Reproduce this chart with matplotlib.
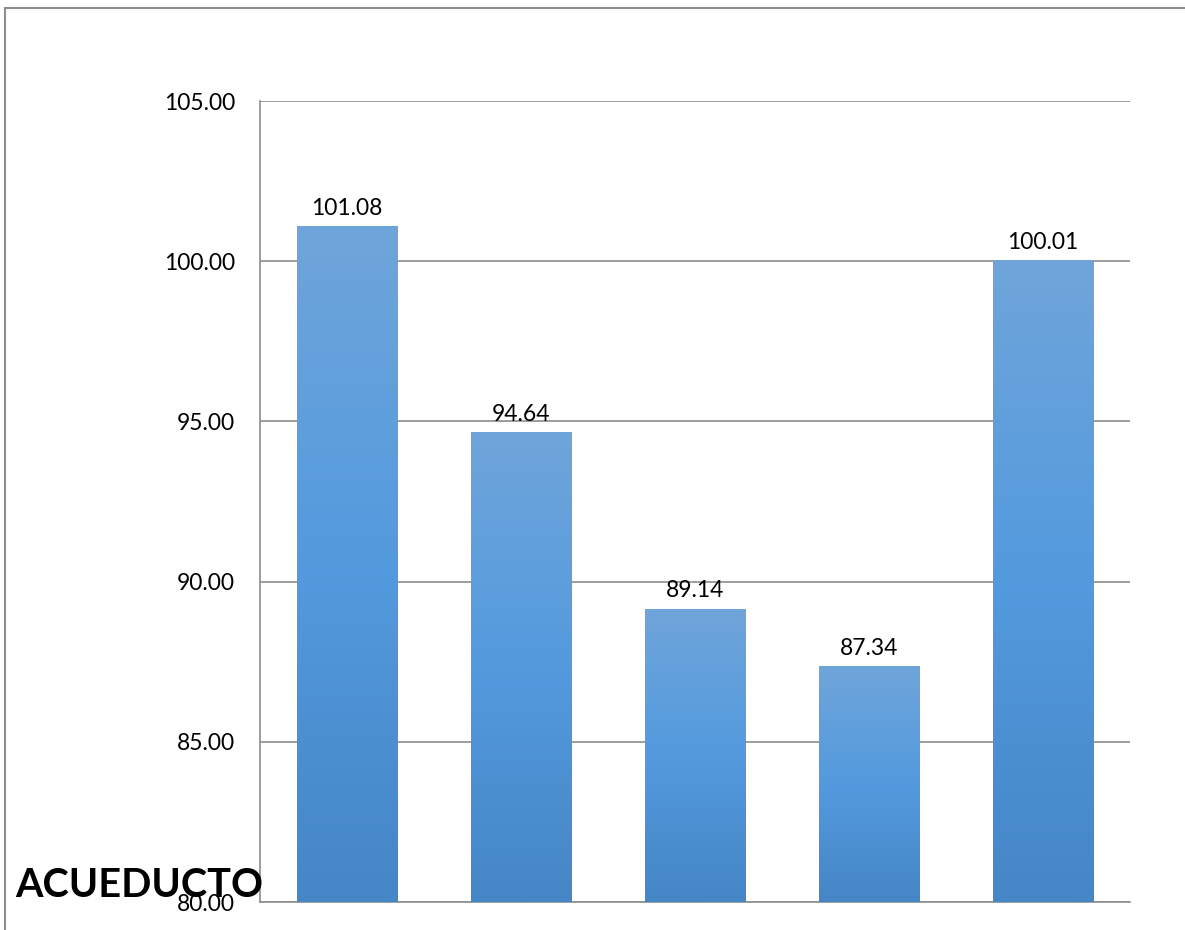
import matplotlib.pyplot as plt
import numpy as np
from matplotlib.colors import LinearSegmentedColormap
from matplotlib.patches import Rectangle

# data
periodos = ['MARZ-ABRIL-18', 'MAYO-JUNIO-18', 'JUL-AGOSTO-18', 'SEP-OCT-18', 'NOV-DIC) 2018']
valores = [101.08, 94.64, 89.14, 87.34, 100.01]
y_ticks = [80, 85, 90, 95, 100, 105]

plt.rcParams['font.family'] = ['Lato', 'DejaVu Sans']

fig = plt.figure(figsize=(11.85, 9.3), dpi=100)
ax = fig.add_axes([260/1185, 1 - 902/930, 870/1185, 801/930])

# outer chart frame (runs off the right and bottom edges)
fig.patches.append(Rectangle((5/1185, -0.1), 1.2, 0.1 + (1 - 8/930), transform=fig.transFigure,
                             fill=False, edgecolor='#8c8c8c', linewidth=1.5))

x = np.arange(len(valores))
bars = ax.bar(x, valores, width=0.575, color='none', zorder=3)

grad = LinearSegmentedColormap.from_list('g', ['#4586c6', '#539ade', '#6fa5da'])
g = np.linspace(0, 1, 256).reshape(-1, 1)
for b, v in zip(bars, valores):
    x0 = b.get_x()
    w = b.get_width()
    ax.imshow(g, cmap=grad, aspect='auto', origin='lower',
              extent=(x0, x0 + w, 80, v), zorder=3)
    ax.text(x0 + w / 2, v + 0.25, f'{v:.2f}', ha='center', va='bottom',
            fontsize=16.5, color='#000000', zorder=4)

ax.set_xlim(-0.5, len(valores) - 0.5)
ax.set_ylim(80, 105)
ax.set_yticks(y_ticks)
ax.set_yticklabels([f'{t:.2f}' for t in y_ticks], fontsize=16.5)
ax.yaxis.grid(True, color='#8c8c8c', linewidth=1.2, zorder=0)
ax.set_axisbelow(True)

ax.set_xticks(x)
ax.set_xticklabels([p if i % 2 == 0 else '' for i, p in enumerate(periodos)], fontsize=16.5)
ax.tick_params(axis='both', length=0)
ax.tick_params(axis='x', pad=20)
ax.tick_params(axis='y', pad=18)

for s in ['top', 'right']:
    ax.spines[s].set_visible(False)
ax.spines['left'].set_color('#8c8c8c')
ax.spines['bottom'].set_color('#8c8c8c')
ax.spines['left'].set_linewidth(1.2)
ax.spines['bottom'].set_linewidth(1.2)

fig.text(15/1185, 1 - 897/930, 'ACUEDUCTO', fontsize=28.5, fontweight='bold',
         ha='left', va='baseline', color='#000000')

fig.savefig('out.png', dpi=100)
